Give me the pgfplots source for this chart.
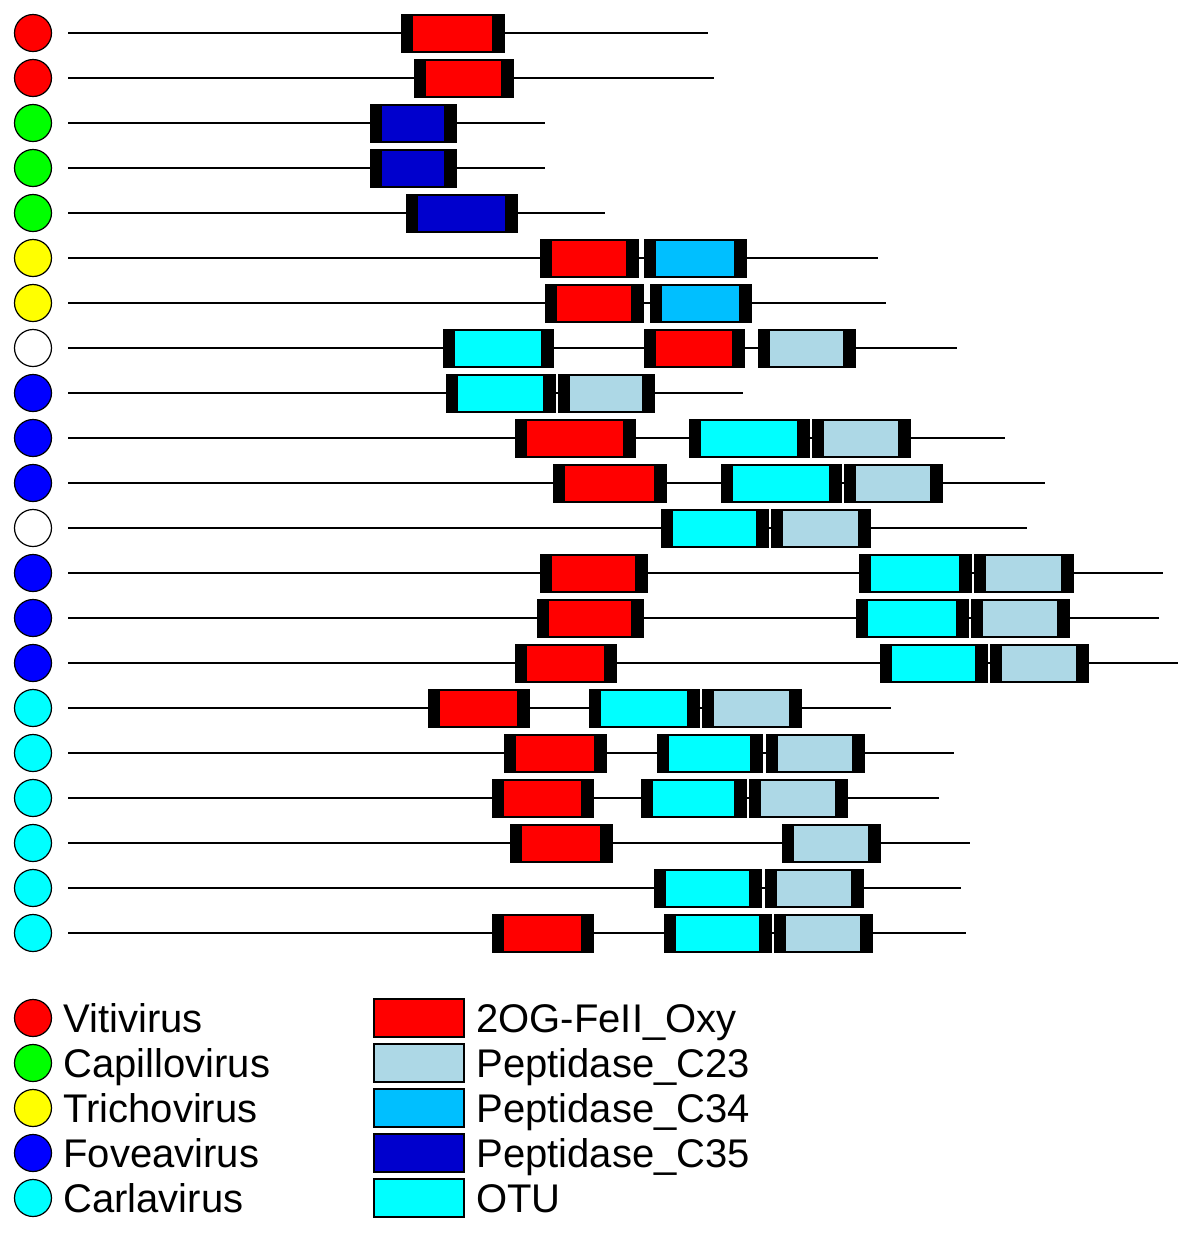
\documentclass[border=0pt]{standalone}
\usepackage{pgfplots}
\pgfplotsset{compat=1.18}
\usepackage{fontspec}
\setmainfont{Liberation Sans}
\definecolor{cRed}{RGB}{255,0,0}
\definecolor{cGreen}{RGB}{0,255,0}
\definecolor{cYellow}{RGB}{255,255,0}
\definecolor{cBlue}{RGB}{0,0,255}
\definecolor{cCyan}{RGB}{0,255,255}
\definecolor{cC23}{RGB}{173,216,230}
\definecolor{cC34}{RGB}{0,191,255}
\definecolor{cC35}{RGB}{0,0,205}
% protein row: y, line end, circle colour
\newcommand{\prot}[3]{%
  \addplot[black, line width=1pt] coordinates {(68,#1) (#2,#1)};
  \addplot[only marks, mark=*, mark size=9.25pt, mark options={fill=#3, draw=black, line width=0.6pt}] coordinates {(33,#1)};
}
% domain: x1, x2, y, colour
\newcommand{\dom}[4]{%
  \pgfmathsetmacro\ya{#3-19}\pgfmathsetmacro\yb{#3+19}%
  \pgfmathsetmacro\yc{#3-17.5}\pgfmathsetmacro\yd{#3+17.5}%
  \pgfmathsetmacro\xa{#1+12}\pgfmathsetmacro\xb{#2-12}%
  \addplot[draw=black, fill=black, line width=0.5pt] coordinates {(#1,\ya) (#2,\ya) (#2,\yb) (#1,\yb)} -- cycle;
  \addplot[draw=none, fill=#4] coordinates {(\xa,\yc) (\xb,\yc) (\xb,\yd) (\xa,\yd)} -- cycle;
}
% legend box: y, colour, text
\newcommand{\legbox}[3]{%
  \pgfmathsetmacro\ya{#1-19}\pgfmathsetmacro\yb{#1+19}%
  \addplot[draw=black, fill=#2, line width=0.6pt] coordinates {(374,\ya) (464,\ya) (464,\yb) (374,\yb)} -- cycle;
  \node[anchor=base west, inner sep=0pt, font=\fontsize{20}{24}\selectfont] at (axis cs:476,#1+14) {#3};
}
\newcommand{\legcirc}[3]{%
  \addplot[only marks, mark=*, mark size=9.25pt, mark options={fill=#2, draw=black, line width=0.6pt}] coordinates {(33,#1)};
  \node[anchor=base west, inner sep=0pt, font=\fontsize{20}{24}\selectfont] at (axis cs:63,#1+14) {#3};
}
\begin{document}
\begin{tikzpicture}
\begin{axis}[
  width=600pt, height=619pt, scale only axis,
  xmin=0, xmax=1200, ymin=0, ymax=1238, y dir=reverse,
  hide axis, clip=false,
  axis background/.style={fill=white},
]
% row 1
\prot{33}{708}{cRed}
\dom{401}{504}{33}{cRed}
% row 2
\prot{78}{714}{cRed}
\dom{414}{513}{78}{cRed}
% row 3
\prot{123}{545}{cGreen}
\dom{370}{456}{123}{cC35}
% row 4
\prot{168}{545}{cGreen}
\dom{370}{456}{168}{cC35}
% row 5
\prot{213}{605}{cGreen}
\dom{406}{517}{213}{cC35}
% row 6
\prot{258}{878}{cYellow}
\dom{540}{638}{258}{cRed}
\dom{644}{746}{258}{cC34}
% row 7
\prot{303}{886}{cYellow}
\dom{545}{643}{303}{cRed}
\dom{650}{751}{303}{cC34}
% row 8
\prot{348}{957}{white}
\dom{443}{553}{348}{cCyan}
\dom{644}{744}{348}{cRed}
\dom{758}{855}{348}{cC23}
% row 9
\prot{393}{743}{cBlue}
\dom{446}{555}{393}{cCyan}
\dom{558}{654}{393}{cC23}
% row 10
\prot{438}{1005}{cBlue}
\dom{515}{635}{438}{cRed}
\dom{689}{809}{438}{cCyan}
\dom{812}{910}{438}{cC23}
% row 11
\prot{483}{1045}{cBlue}
\dom{553}{666}{483}{cRed}
\dom{721}{841}{483}{cCyan}
\dom{844}{942}{483}{cC23}
% row 12
\prot{528}{1027}{white}
\dom{661}{768}{528}{cCyan}
\dom{771}{870}{528}{cC23}
% row 13
\prot{573}{1163}{cBlue}
\dom{540}{647}{573}{cRed}
\dom{859}{971}{573}{cCyan}
\dom{974}{1073}{573}{cC23}
% row 14
\prot{618}{1159}{cBlue}
\dom{537}{643}{618}{cRed}
\dom{856}{968}{618}{cCyan}
\dom{971}{1069}{618}{cC23}
% row 15
\prot{663}{1178}{cBlue}
\dom{515}{616}{663}{cRed}
\dom{880}{987}{663}{cCyan}
\dom{990}{1088}{663}{cC23}
% row 16
\prot{708}{891}{cCyan}
\dom{428}{529}{708}{cRed}
\dom{589}{699}{708}{cCyan}
\dom{702}{801}{708}{cC23}
% row 17
\prot{753}{954}{cCyan}
\dom{504}{606}{753}{cRed}
\dom{657}{762}{753}{cCyan}
\dom{766}{864}{753}{cC23}
% row 18
\prot{798}{939}{cCyan}
\dom{492}{593}{798}{cRed}
\dom{641}{746}{798}{cCyan}
\dom{749}{847}{798}{cC23}
% row 19
\prot{843}{970}{cCyan}
\dom{510}{612}{843}{cRed}
\dom{782}{880}{843}{cC23}
% row 20
\prot{888}{961}{cCyan}
\dom{654}{761}{888}{cCyan}
\dom{765}{863}{888}{cC23}
% row 21
\prot{933}{966}{cCyan}
\dom{492}{593}{933}{cRed}
\dom{664}{771}{933}{cCyan}
\dom{774}{872}{933}{cC23}
% legend
\legcirc{1018}{cRed}{Vitivirus}
\legcirc{1063}{cGreen}{Capillovirus}
\legcirc{1108}{cYellow}{Trichovirus}
\legcirc{1153}{cBlue}{Foveavirus}
\legcirc{1198}{cCyan}{Carlavirus}
\legbox{1018}{cRed}{2OG-FeII\_Oxy}
\legbox{1063}{cC23}{Peptidase\_C23}
\legbox{1108}{cC34}{Peptidase\_C34}
\legbox{1153}{cC35}{Peptidase\_C35}
\legbox{1198}{cCyan}{OTU}
\end{axis}
\end{tikzpicture}
\end{document}
